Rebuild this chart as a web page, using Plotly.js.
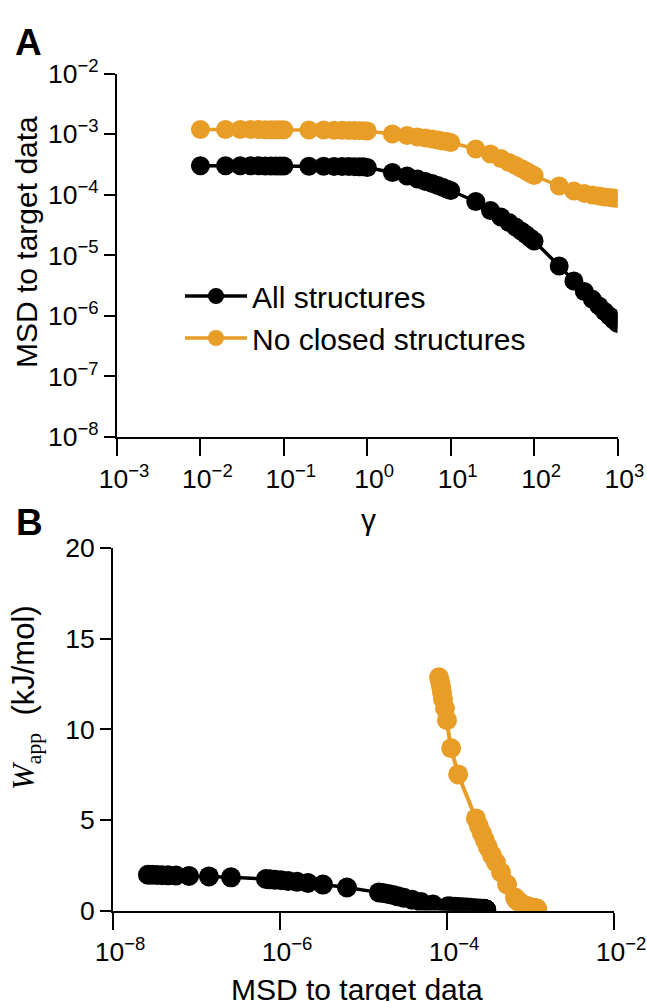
<!DOCTYPE html>
<html><head><meta charset="utf-8">
<script src="https://cdn.plot.ly/plotly-3.0.1.min.js"></script>
<style>html,body{margin:0;padding:0;background:#fff}</style>
</head><body><div id="chart" style="width:647px;height:1001px"></div>
<script>
// ---- Panel A: MSD vs gamma ----
const gamma = [0.01,0.02,0.03,0.04,0.05,0.06,0.07,0.08,0.09,
               0.1,0.2,0.3,0.4,0.5,0.6,0.7,0.8,0.9,
               1,2,3,4,5,6,7,8,9,
               10,20,30,40,50,60,70,80,90,
               100,200,300,400,500,600,700,800,900,
               1000];
const msdAll = [3.00e-4,3.00e-4,2.99e-4,2.99e-4,2.99e-4,2.98e-4,2.98e-4,2.98e-4,2.97e-4,
                2.97e-4,2.95e-4,2.94e-4,2.93e-4,2.92e-4,2.91e-4,2.90e-4,2.89e-4,2.88e-4,
                2.81e-4,2.32e-4,2.04e-4,1.82e-4,1.65e-4,1.53e-4,1.42e-4,1.32e-4,1.24e-4,
                1.17e-4,7.73e-5,5.48e-5,4.28e-5,3.48e-5,2.93e-5,2.52e-5,2.20e-5,1.93e-5,
                1.72e-5,6.65e-6,3.77e-6,2.53e-6,1.87e-6,1.46e-6,1.18e-6,9.96e-7,8.55e-7,
                7.50e-7];
const msdNoClosed = [1.19e-3,1.19e-3,1.19e-3,1.19e-3,1.19e-3,1.18e-3,1.18e-3,1.18e-3,1.18e-3,
                     1.18e-3,1.17e-3,1.17e-3,1.16e-3,1.16e-3,1.15e-3,1.15e-3,1.14e-3,1.14e-3,
                     1.125e-3,1.00e-3,9.48e-4,8.96e-4,8.62e-4,8.30e-4,7.99e-4,7.69e-4,7.55e-4,
                     7.27e-4,5.67e-4,4.70e-4,3.96e-4,3.40e-4,3.03e-4,2.71e-4,2.46e-4,2.24e-4,
                     2.07e-4,1.39e-4,1.15e-4,1.05e-4,9.89e-5,9.53e-5,9.17e-5,9.00e-5,8.83e-5,
                     8.66e-5];

// ---- Panel B: W_app vs MSD ----
const msdAllB = [2.95e-4,2.95e-4,2.94e-4,2.94e-4,2.93e-4,2.93e-4,2.92e-4,2.92e-4,2.91e-4,
                 2.90e-4,2.88e-4,2.87e-4,2.85e-4,2.84e-4,2.82e-4,2.81e-4,2.79e-4,2.78e-4,
                 2.77e-4,2.48e-4,2.22e-4,1.94e-4,1.74e-4,1.56e-4,1.39e-4,1.25e-4,1.12e-4,
                 1.03e-4,6.80e-5,4.89e-5,3.81e-5,3.05e-5,2.59e-5,2.26e-5,1.97e-5,1.71e-5,
                 1.53e-5,6.34e-6,3.27e-6,2.16e-6,1.60e-6,1.25e-6,1.03e-6,8.71e-7,7.59e-7,
                 6.79e-7,2.59e-7,1.41e-7,8.13e-8,5.68e-8,4.56e-8,3.86e-8,3.36e-8,2.93e-8,
                 2.62e-8];
const wAppAll = [0.03,0.03,0.03,0.04,0.04,0.04,0.04,0.05,0.05,
                 0.05,0.05,0.06,0.06,0.06,0.07,0.07,0.08,0.08,
                 0.09,0.11,0.13,0.15,0.17,0.18,0.20,0.21,0.22,
                 0.24,0.33,0.47,0.60,0.70,0.78,0.85,0.91,0.96,
                 1.00,1.27,1.43,1.52,1.58,1.63,1.67,1.70,1.72,
                 1.74,1.83,1.88,1.91,1.93,1.94,1.95,1.96,1.97,
                 1.97];
const msdNoClosedB = [1.20e-3,1.20e-3,1.19e-3,1.19e-3,1.19e-3,1.18e-3,1.18e-3,1.18e-3,1.17e-3,
                      1.17e-3,1.16e-3,1.15e-3,1.15e-3,1.14e-3,1.13e-3,1.13e-3,1.12e-3,1.11e-3,
                      1.10e-3,9.86e-4,9.08e-4,8.36e-4,7.91e-4,7.48e-4,7.18e-4,6.89e-4,6.70e-4,
                      6.52e-4,5.24e-4,4.44e-4,3.86e-4,3.46e-4,3.10e-4,2.85e-4,2.62e-4,2.42e-4,
                      2.22e-4,1.36e-4,1.12e-4,1.00e-4,9.46e-5,8.95e-5,8.71e-5,8.47e-5,8.24e-5,
                      8.02e-5];
const wAppNoClosed = [0.08,0.08,0.08,0.08,0.09,0.09,0.09,0.09,0.09,
                      0.10,0.10,0.11,0.11,0.11,0.12,0.12,0.13,0.13,
                      0.14,0.19,0.25,0.30,0.36,0.41,0.50,0.55,0.64,
                      0.72,1.44,2.10,2.65,3.04,3.48,3.87,4.25,4.64,
                      5.08,7.51,8.95,10.50,11.16,11.66,12.04,12.38,12.65,
                      12.87];

// ---- ticks & labels ----
const tickValsAx = [1e-3,1e-2,1e-1,1,10,100,1000];
const tickTextAx = ['10<sup>−3</sup>','10<sup>−2</sup>','10<sup>−1</sup>','10<sup>0</sup>','10<sup>1</sup>','10<sup>2</sup>','10<sup>3</sup>'];
const tickValsAy = [1e-8,1e-7,1e-6,1e-5,1e-4,1e-3,1e-2];
const tickTextAy = ['10<sup>−8</sup>','10<sup>−7</sup>','10<sup>−6</sup>','10<sup>−5</sup>','10<sup>−4</sup>','10<sup>−3</sup>','10<sup>−2</sup>'];
const tickValsBx = [1e-8,1e-6,1e-4,1e-2];
const tickTextBx = ['10<sup>−8</sup>','10<sup>−6</sup>','10<sup>−4</sup>','10<sup>−2</sup>'];
const tickValsBy = [0,5,10,15,20];
const seriesNames = ['All structures','No closed structures'];

const W = 647, H = 1001;
const BLACK = '#000000', ORANGE = '#E89D27';
const FONT = 'Liberation Sans, Arial, Helvetica, sans-serif';
const px = v => v / W, py = v => 1 - v / H;

const traces = [
  {x: gamma, y: msdAll, xaxis: 'x', yaxis: 'y', mode: 'lines+markers', name: seriesNames[0],
   line: {color: BLACK, width: 3.5}, marker: {color: BLACK, size: 19}},
  {x: gamma, y: msdNoClosed, xaxis: 'x', yaxis: 'y', mode: 'lines+markers', name: seriesNames[1],
   line: {color: ORANGE, width: 3.5}, marker: {color: ORANGE, size: 19}},
  {x: msdAllB, y: wAppAll, xaxis: 'x2', yaxis: 'y2', mode: 'lines+markers', name: seriesNames[0], showlegend: false,
   line: {color: BLACK, width: 3.5}, marker: {color: BLACK, size: 20}},
  {x: msdNoClosedB, y: wAppNoClosed, xaxis: 'x2', yaxis: 'y2', mode: 'lines+markers', name: seriesNames[1], showlegend: false,
   line: {color: ORANGE, width: 4}, marker: {color: ORANGE, size: 20}}
];

const axCommon = {showline: true, linecolor: '#000', linewidth: 2, ticks: 'outside', tickwidth: 2,
  tickcolor: '#000', showgrid: false, zeroline: false, tickfont: {family: FONT, size: 26.5, color: '#000'},
  tickmode: 'array'};

function ann(text, x, y, opts) {
  return Object.assign({text: text, xref: 'paper', yref: 'paper', x: px(x), y: py(y),
    xanchor: 'center', yanchor: 'middle', showarrow: false,
    font: {family: FONT, size: 30, color: '#000'}}, opts || {});
}

const layout = {
  width: W, height: H, margin: {l: 0, r: 0, t: 0, b: 0},
  paper_bgcolor: '#fff', plot_bgcolor: 'rgba(0,0,0,0)',
  font: {family: FONT, color: '#000'},
  showlegend: true,
  legend: {x: px(180), y: py(270), xanchor: 'left', yanchor: 'top', bgcolor: 'rgba(0,0,0,0)',
           font: {family: FONT, size: 30, color: '#000'}, itemwidth: 62, tracegroupgap: 0},
  xaxis: Object.assign({}, axCommon, {type: 'log', range: [-3, 3], domain: [px(117), px(617.5)], anchor: 'y',
           tickvals: tickValsAx, ticktext: tickTextAx, ticklen: 17, ticklabelshift: 7}),
  yaxis: Object.assign({}, axCommon, {type: 'log', range: [-8, -2], domain: [py(437), py(73.5)], anchor: 'x',
           tickvals: tickValsAy, ticktext: tickTextAy, ticklen: 11}),
  xaxis2: Object.assign({}, axCommon, {type: 'log', range: [-8, -2], domain: [px(113), px(614)], anchor: 'y2',
           tickvals: tickValsBx, ticktext: tickTextBx, ticklen: 17, ticklabelshift: 7}),
  yaxis2: Object.assign({}, axCommon, {range: [0, 20], domain: [py(910.5), py(548)], anchor: 'x2',
           tickvals: tickValsBy, ticktext: tickValsBy.map(String), ticklen: 11}),
  annotations: [
    ann('<b>A</b>', 28, 42, {font: {family: FONT, size: 37, color: '#000'}}),
    ann('<b>B</b>', 29, 522, {font: {family: FONT, size: 37, color: '#000'}}),
    ann('MSD to target data', 26, 242, {textangle: -90}),
    ann('γ', 368, 519),
    ann('MSD to target data', 356.5, 989),
    ann("<span style=\"font-family:'Liberation Serif',serif\"><i>W</i><sub>app</sub></span>\u00a0\u00a0(kJ/mol)",
        26, 698, {textangle: -90, font: {family: FONT, size: 31, color: '#000'}})
  ]
};

Plotly.newPlot('chart', traces, layout, {staticPlot: true, displayModeBar: false});
</script></body></html>
